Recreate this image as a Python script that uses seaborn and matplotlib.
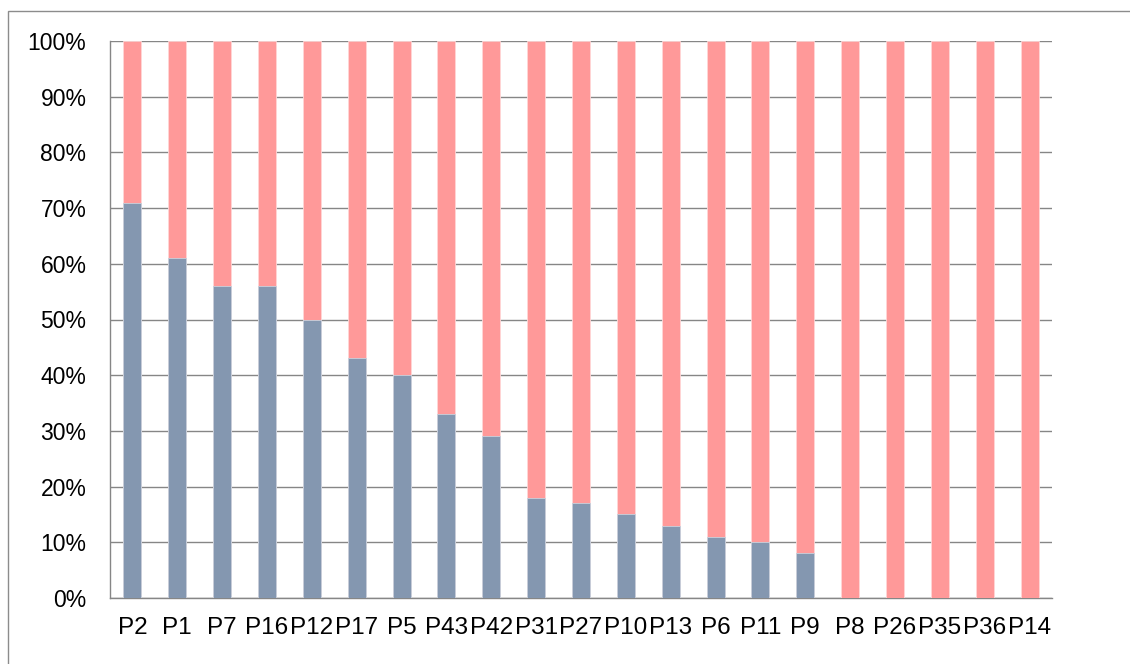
import matplotlib
matplotlib.use("Agg")
import matplotlib.pyplot as plt
from matplotlib.patches import Rectangle
from matplotlib.ticker import FuncFormatter, MultipleLocator
import pandas as pd
import seaborn as sns

# Share of responses per participant (percent)
participants = ["P2", "P1", "P7", "P16", "P12", "P17", "P5", "P43", "P42", "P31",
                "P27", "P10", "P13", "P6", "P11", "P9", "P8", "P26", "P35", "P36", "P14"]
first_share = [71, 61, 56, 56, 50, 43, 40, 33, 29, 18,
               17, 15, 13, 11, 10, 8, 0, 0, 0, 0, 0]
second_share = [100 - v for v in first_share]

BLUE = "#8497B0"
PINK = "#FF9999"
GRID = "#868686"

sns.set_style("white")
plt.rcParams["font.family"] = ["Liberation Sans", "DejaVu Sans"]

df = pd.DataFrame({
    "participant": participants,
    "first": first_share,
    "total": [a + b for a, b in zip(first_share, second_share)],
})

fig = plt.figure(figsize=(11.3, 6.64), dpi=100)
ax = fig.add_axes([110 / 1130, 1 - 598 / 664, 942 / 1130, 557 / 664])

# Stacked 100% bars: full-height top segment, then bottom segment over it
sns.barplot(data=df, x="participant", y="total", color=PINK, saturation=1,
            width=0.4, edgecolor="#FFD6D6", linewidth=0.6, ax=ax, zorder=3)
sns.barplot(data=df, x="participant", y="first", color=BLUE, saturation=1,
            width=0.4, edgecolor="#C9D1DD", linewidth=0.6, ax=ax, zorder=4)

ax.set_xlim(-0.5, len(participants) - 0.5)
ax.set_ylim(0, 100)
ax.yaxis.set_major_locator(MultipleLocator(10))
ax.yaxis.set_major_formatter(FuncFormatter(lambda v, _: f"{v:.0f}%"))
ax.set_xlabel("")
ax.set_ylabel("")

# Horizontal gridlines
ax.grid(axis="y", color=GRID, linewidth=1.0, zorder=0)
ax.set_axisbelow(True)

for side in ("top", "right"):
    ax.spines[side].set_visible(False)
for side in ("left", "bottom"):
    ax.spines[side].set_color(GRID)
    ax.spines[side].set_linewidth(1.0)

# Category-boundary tick marks on x, labels centered under bars
ax.set_xticks(range(len(participants)))
ax.set_xticklabels(participants, fontsize=17.5, color="black")
ax.tick_params(axis="x", which="major", length=0, pad=14)
ax.set_xticks([i - 0.5 for i in range(len(participants) + 1)], minor=True)
ax.tick_params(axis="x", which="minor", length=7, width=1.0, color=GRID, direction="out")
ax.tick_params(axis="y", length=7, width=1.0, color=GRID, labelsize=16.5,
               labelcolor="black", pad=10, direction="out")

# Chart-area border
fig.patches.append(Rectangle((8 / 1130, -0.05), 1.1, 1 - 11 / 664 + 0.05,
                             transform=fig.transFigure, fill=False,
                             edgecolor="#8C8C8C", linewidth=1.0))

fig.savefig("out.png", dpi=100)
